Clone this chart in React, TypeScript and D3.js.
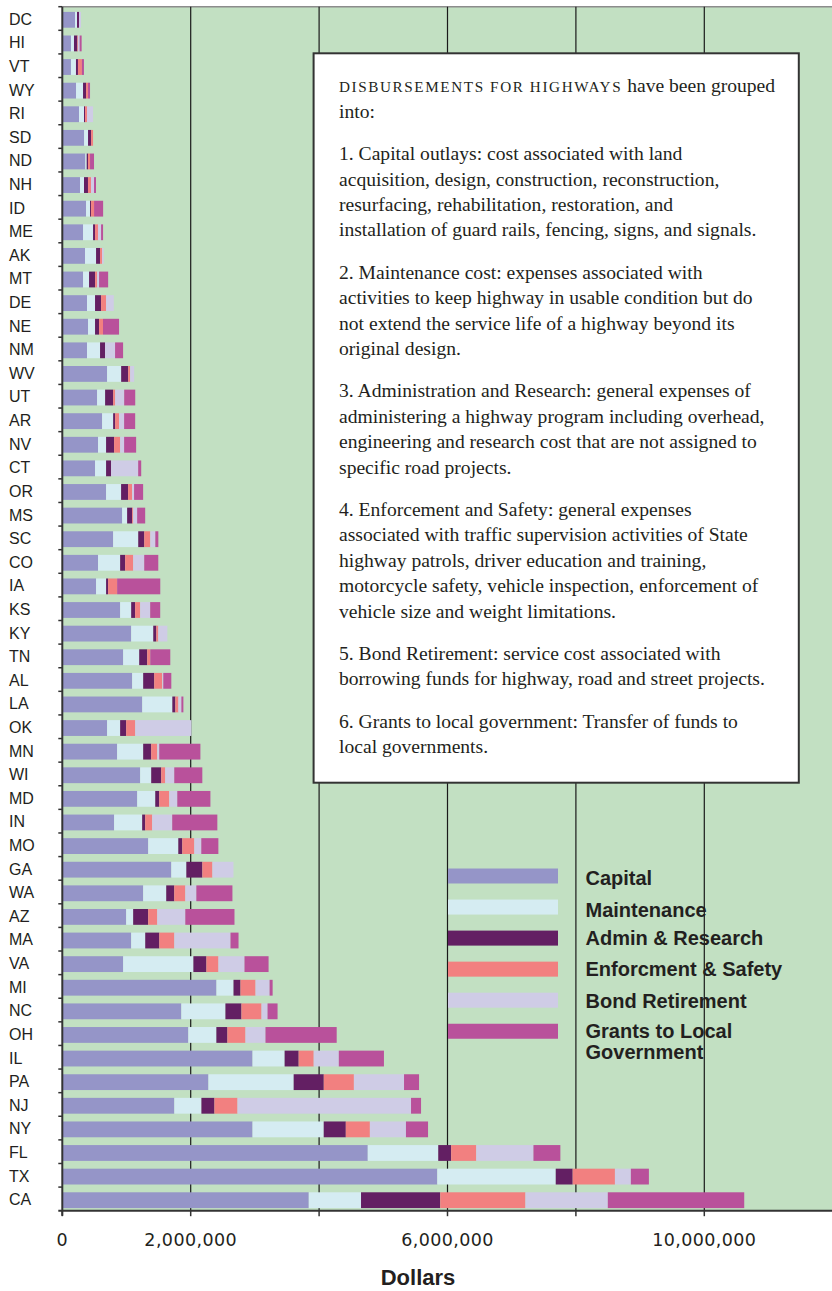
import * as d3 from "d3";

// states, top to bottom
const states = ["DC", "HI", "VT", "WY", "RI", "SD", "ND", "NH", "ID", "ME", "AK", "MT", "DE", "NE", "NM", "WV", "UT", "AR", "NV", "CT", "OR", "MS", "SC", "CO", "IA", "KS", "KY", "TN", "AL", "LA", "OK", "MN", "WI", "MD", "IN", "MO", "GA", "WA", "AZ", "MA", "VA", "MI", "NC", "OH", "IL", "PA", "NJ", "NY", "FL", "TX", "CA"];

// values in thousands of dollars
const capital = [198, 135, 135, 214, 260, 339, 359, 276, 370, 323, 354, 323, 385, 401, 385, 698, 542, 620, 557, 510, 682, 932, 792, 557, 526, 901, 1073, 948, 1088, 1245, 698, 854, 1213, 1167, 807, 1338, 1698, 1260, 995, 1073, 948, 2401, 1854, 1963, 2963, 2276, 1745, 2963, 4758, 5841, 3839];
const maintenance = [31, 47, 78, 109, 78, 62, 21, 62, 62, 156, 172, 94, 125, 109, 203, 219, 125, 172, 125, 172, 234, 78, 391, 344, 156, 172, 344, 250, 172, 469, 203, 406, 172, 281, 437, 469, 234, 359, 109, 219, 1094, 266, 687, 437, 500, 1328, 422, 1109, 1098, 1845, 814];
const admin = [31, 52, 31, 47, 16, 47, 21, 62, 16, 31, 62, 94, 94, 62, 78, 109, 125, 31, 125, 78, 109, 78, 94, 78, 31, 62, 47, 125, 172, 47, 94, 125, 156, 62, 47, 62, 250, 125, 234, 219, 203, 109, 250, 172, 219, 469, 203, 344, 201, 264, 1234];
const enforcement = [0, 10, 62, 31, 31, 31, 31, 47, 47, 47, 31, 31, 78, 62, 0, 31, 31, 62, 94, 0, 62, 16, 94, 125, 141, 78, 31, 47, 125, 47, 141, 94, 62, 156, 109, 187, 156, 172, 141, 234, 187, 234, 312, 281, 234, 469, 359, 375, 391, 658, 1327];
const bond = [31, 26, 0, 0, 94, 0, 0, 47, 0, 47, 26, 31, 120, 0, 156, 62, 141, 78, 62, 422, 31, 62, 78, 172, 0, 156, 141, 0, 16, 47, 875, 31, 141, 125, 312, 109, 328, 172, 437, 875, 406, 219, 94, 312, 391, 781, 2703, 562, 891, 248, 1283];
const grants = [0, 31, 31, 31, 0, 0, 62, 31, 141, 31, 0, 141, 0, 250, 125, 0, 172, 172, 187, 47, 141, 125, 47, 219, 672, 156, 0, 312, 125, 31, 0, 641, 437, 516, 703, 266, 0, 562, 766, 125, 375, 47, 156, 1109, 703, 234, 156, 344, 419, 281, 2125];

const seriesKeys = ["capital", "maintenance", "admin", "enforcement", "bond", "grants"];
const seriesLabels = [["Capital"], ["Maintenance"], ["Admin & Research"], ["Enforcment & Safety"], ["Bond Retirement"], ["Grants to Local", "Government"]];
const seriesColors = ["#9595c8", "#d5ecf2", "#631f63", "#f28080", "#cfcce6", "#b9519b"];

const gridTicks = [2000, 4000, 6000, 8000, 10000];
const axisTicks = [0, 2000, 4000, 6000, 8000, 10000];
const labeledTicks = [0, 2000, 6000, 10000];

const notes = [
  ["__HEAD__", "into:"],
  ["1. Capital outlays: cost associated with land", "acquisition, design, construction, reconstruction,", "resurfacing, rehabilitation, restoration, and", "installation of guard rails, fencing, signs, and signals."],
  ["2. Maintenance cost: expenses associated with", "activities to keep highway in usable condition but do", "not extend the service life of a highway beyond its", "original design."],
  ["3. Administration and Research: general expenses of", "administering a highway program including overhead,", "engineering and research cost that are not assigned to", "specific road projects."],
  ["4. Enforcement and Safety: general expenses", "associated with traffic supervision activities of State", "highway patrols, driver education and training,", "motorcycle safety, vehicle inspection, enforcement of", "vehicle size and weight limitations."],
  ["5. Bond Retirement: service cost associated with", "borrowing funds for highway, road and street projects."],
  ["6. Grants to local government: Transfer of funds to", "local governments."],
];

const W = 832;
const H = 1291;
const plotTop = 6.7;
const plotBottom = 1210.7;
const plotLeft = 62.3;
const textColor = "#231f20";

export default function App() {
  const rows = states.map((s, i) => ({
    state: s,
    capital: capital[i],
    maintenance: maintenance[i],
    admin: admin[i],
    enforcement: enforcement[i],
    bond: bond[i],
    grants: grants[i],
  }));
  const stacked = d3.stack<any>().keys(seriesKeys)(rows);

  const x = d3.scaleLinear().domain([0, 12000]).range([plotLeft, plotLeft + 6 * 128.4]);
  const y = d3.scaleBand().domain(states).range([plotTop, plotBottom]).paddingInner(0.33).paddingOuter(0.165);
  const band = (plotBottom - plotTop) / states.length;
  const fmt = d3.format(",");

  // text box lines
  const lineH = 25.4;
  const paraGap = 17;
  const lines: { text: string; y: number }[] = [];
  let ty = 92.3;
  notes.forEach((p, pi) => {
    if (pi > 0) ty += paraGap;
    p.forEach((t) => {
      lines.push({ text: t, y: ty });
      ty += lineH;
    });
  });

  const legendLabelY = [884.7, 917, 945.4, 975.6, 1007.5, 1038];

  return (
    <svg width={W} height={H} style={{ position: "absolute", left: 0, top: 0, background: "#fff" }}>
      <rect x={plotLeft} y={plotTop} width={W - plotLeft} height={plotBottom - plotTop} fill="#c2e0c2" />
      <line x1={plotLeft} x2={W} y1={plotTop} y2={plotTop} stroke="#8c8c8c" strokeWidth={1.5} />

      {/* grid */}
      {gridTicks.map((t) => (
        <line key={t} x1={x(t)} x2={x(t)} y1={plotTop} y2={plotBottom} stroke="#1a1a1a" strokeWidth={1.2} />
      ))}

      {/* bars */}
      {stacked.map((s, si) => (
        <g key={s.key} fill={seriesColors[si]}>
          {s.map((d, i) =>
            d[1] - d[0] > 0 ? (
              <rect key={i} x={x(d[0])} y={(y(states[i]) as number) + 1.3} width={x(d[1]) - x(d[0])} height={y.bandwidth()} />
            ) : null
          )}
        </g>
      ))}

      {/* text box */}
      <rect x={313.6} y={53.3} width={485.2} height={729.4} fill="#fff" stroke="#333" strokeWidth={2} />
      <g fontFamily="'Liberation Serif', 'Times New Roman', serif" fontSize={19.6} fill={textColor}>
        {lines.map((l, i) =>
          l.text === "__HEAD__" ? (
            <text key={i} x={339} y={l.y}>
              <tspan fontSize={15.2} letterSpacing={1.6}>DISBURSEMENTS FOR HIGHWAYS</tspan>
              <tspan> have been grouped</tspan>
            </text>
          ) : (
            <text key={i} x={339} y={l.y}>{l.text}</text>
          )
        )}
      </g>

      {/* legend */}
      {seriesKeys.map((k, i) => (
        <g key={k}>
          <rect x={448} y={868.5 + i * 31.05} width={110} height={15} fill={seriesColors[i]} />
          <text x={585.5} y={legendLabelY[i]} fontFamily="'Liberation Sans', Arial, sans-serif" fontWeight="bold" fontSize={20} fill={textColor}>
            {seriesLabels[i].map((t, j) => (
              <tspan key={j} x={585.5} dy={j === 0 ? 0 : 21.3}>{t}</tspan>
            ))}
          </text>
        </g>
      ))}

      {/* left axis */}
      <line x1={plotLeft} x2={plotLeft} y1={plotTop} y2={plotBottom + 5} stroke="#333" strokeWidth={2} />
      {states.map((s, i) => (
        <line key={s} x1={plotLeft - 4} x2={plotLeft} y1={plotTop + i * band} y2={plotTop + i * band} stroke="#333" strokeWidth={1.5} />
      ))}
      <g fontFamily="'Liberation Sans', Arial, sans-serif" fontSize={16} fill={textColor}>
        {states.map((s) => (
          <text key={s} x={9} y={(y(s) as number) + y.bandwidth() / 2 + 0.5} dy="0.36em">{s}</text>
        ))}
      </g>

      {/* bottom axis */}
      <line x1={plotLeft - 4} x2={W} y1={plotBottom} y2={plotBottom} stroke="#333" strokeWidth={2} />
      {axisTicks.map((t) => (
        <line key={t} x1={x(t)} x2={x(t)} y1={plotBottom} y2={plotBottom + 5.5} stroke="#333" strokeWidth={1.5} />
      ))}
      <g fontFamily="'DejaVu Sans', sans-serif" fontSize={17.5} fill={textColor} textAnchor="middle">
        {labeledTicks.map((t) => (
          <text key={t} x={x(t)} y={1245.5} letterSpacing={0.4}>{fmt(t * 1000)}</text>
        ))}
      </g>
      <text x={418} y={1285} textAnchor="middle" fontFamily="'Liberation Sans', Arial, sans-serif" fontWeight="bold" fontSize={22} fill={textColor}>
        Dollars
      </text>
    </svg>
  );
}
